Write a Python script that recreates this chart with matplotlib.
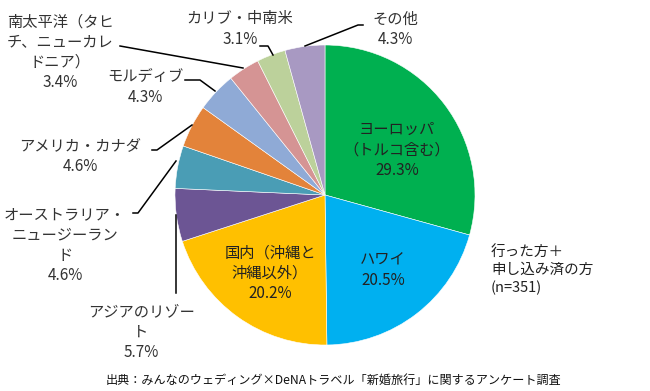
import matplotlib.pyplot as plt

plt.rcParams['font.family'] = ['Noto Sans CJK JP', 'DejaVu Sans']

# データ（12時から時計回り）
regions = ['ヨーロッパ\n（トルコ含む）', 'ハワイ', '国内（沖縄と\n沖縄以外）', 'アジアのリゾー\nト',
           'オーストラリア・\nニュージーラン\nド', 'アメリカ・カナダ', 'モルディブ',
           '南太平洋（タヒ\nチ、ニューカレ\nドニア）', 'カリブ・中南米', 'その他']
shares = [29.3, 20.5, 20.2, 5.7, 4.6, 4.6, 4.3, 3.4, 3.1, 4.3]
colors = ['#00B050', '#00B0F0', '#FFC000', '#6C5594', '#4A9DB5', '#E3833A',
          '#8FAAD6', '#D59494', '#BCD19B', '#A899C2']
note = '行った方＋\n申し込み済の方\n(n=351)'
source = '出典：みんなのウェディング×DeNAトラベル「新婚旅行」に関するアンケート調査'

fig = plt.figure(figsize=(6.5, 3.91), dpi=100)
ax = fig.add_axes([0, 0, 1, 1])

cx, cy, r = 325, 196, 150
ax.pie(shares, colors=colors, startangle=90, counterclock=False,
       center=(cx, cy), radius=r, frame=True,
       wedgeprops=dict(edgecolor='white', linewidth=0.4))
ax.set_xlim(0, 650)
ax.set_ylim(0, 391)
ax.set_aspect('auto')
ax.axis('off')

def lab(i):
    return regions[i] + '\n' + f'{shares[i]}%'

fs = 11
# 内側ラベル
ax.text(397, 241, lab(0), ha='center', va='center', fontsize=fs, color='#222222', linespacing=1.25)
ax.text(383, 121, lab(1), ha='center', va='center', fontsize=fs, color='#222222', linespacing=1.25)
ax.text(270, 118, lab(2), ha='center', va='center', fontsize=fs, color='#222222', linespacing=1.25)

# 外側ラベル
outside = {3: (141, 59), 4: (65, 146), 5: (80, 235), 6: (145, 304), 7: (60, 339), 8: (240, 362), 9: (395, 362)}
for i, (x, y) in outside.items():
    ax.text(x, y, lab(i), ha='center', va='center', fontsize=fs, color='#333333', linespacing=1.25)

# 引き出し線
lines = {
    3: [(176, 98), (176, 176)],
    4: [(133, 178), (138, 178), (176, 230)],
    5: [(152, 241), (157, 241), (192, 266)],
    6: [(185, 311), (200, 311), (215, 300)],
    7: [(120, 345), (243, 323)],
    8: [(260, 345), (268, 345), (273, 336)],
    9: [(363, 366), (358, 366), (305, 345)],
}
for pts in lines.values():
    xs, ys = zip(*pts)
    ax.plot(xs, ys, color='black', linewidth=1.1)

ax.text(491, 121, note, ha='left', va='center', fontsize=10.5, color='#222222', linespacing=1.35)
ax.text(334, 11, source, ha='center', va='center', fontsize=8.7, color='#111111')

fig.savefig('out.png', dpi=100)
